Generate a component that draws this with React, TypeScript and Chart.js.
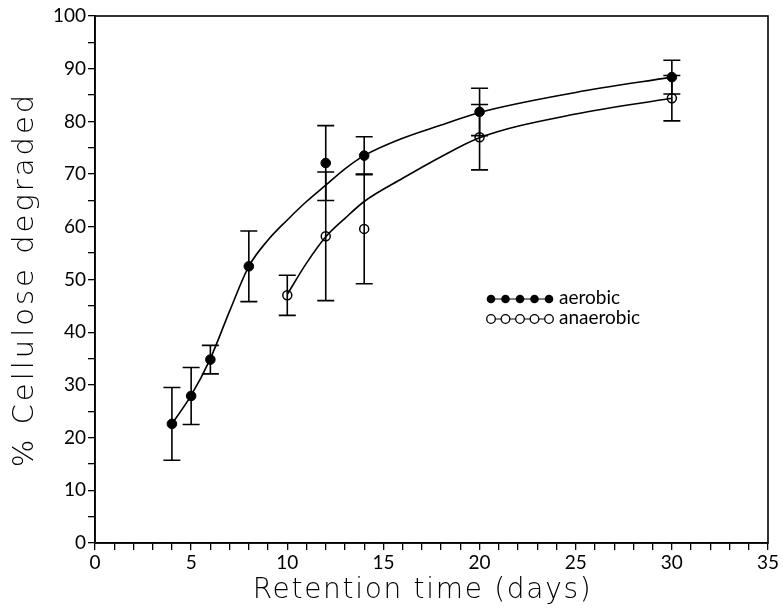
import React, { useEffect, useRef } from "react";
import { Chart, registerables } from "chart.js";

Chart.register(...registerables);

// Measured points (mean ± error)
const aerobicX = [4, 5, 6, 8, 12, 14, 20, 30];
const aerobicY = [22.6, 27.9, 34.8, 52.5, 72.1, 73.5, 81.8, 88.4];
const aerobicErr = [6.9, 5.4, 2.7, 6.7, 7.1, 3.6, 4.5, 3.2];

const anaerobicX = [10, 12, 14, 20, 30];
const anaerobicY = [47.0, 58.2, 59.6, 77.0, 84.4];
const anaerobicErr = [3.8, 12.2, 10.4, 6.2, 4.3];

// Fitted curves
const aerobicFitX = [4, 5, 6, 7, 8, 9, 10, 11, 12, 13, 14, 16, 18, 20, 25, 30];
const aerobicFitY = [22.6, 28, 35, 44, 52.5, 57.5, 61.3, 64.8, 67.9, 71.0, 73.5, 76.8, 79.3, 81.7, 85.5, 88.4];
const anaerobicFitX = [10, 11, 12, 13, 14, 16, 18, 20, 25, 30];
const anaerobicFitY = [47.2, 53.1, 58.1, 61.6, 64.8, 69.2, 73.3, 76.9, 81.4, 84.4];

const legendLabels = ["aerobic", "anaerobic"];
const xTitle = "Retention time (days)";
const yTitle = "% Cellulose degraded";

const FONT = "Lato, 'DejaVu Sans', sans-serif";
const TITLE_FONT = "'DejaVu Sans', sans-serif";

const toXY = (xs: number[], ys: number[]) => xs.map((x, i) => ({ x, y: ys[i] }));

const errorBarPlugin = {
  id: "errorBars",
  afterDatasetsDraw(chart: any) {
    const ctx = chart.ctx;
    const xs = chart.scales.x;
    const ys = chart.scales.y;
    const series = [
      [aerobicX, aerobicY, aerobicErr],
      [anaerobicX, anaerobicY, anaerobicErr],
    ];
    ctx.save();
    ctx.strokeStyle = "#000";
    ctx.lineWidth = 1.6;
    const cap = 8.5;
    series.forEach(([X, Y, E]) => {
      X.forEach((xv: number, i: number) => {
        const px = xs.getPixelForValue(xv);
        const top = ys.getPixelForValue(Y[i] + E[i]);
        const bot = ys.getPixelForValue(Y[i] - E[i]);
        ctx.beginPath();
        ctx.moveTo(px, top);
        ctx.lineTo(px, bot);
        ctx.moveTo(px - cap, top);
        ctx.lineTo(px + cap, top);
        ctx.moveTo(px - cap, bot);
        ctx.lineTo(px + cap, bot);
        ctx.stroke();
      });
    });
    ctx.restore();
  },
};

const framePlugin = {
  id: "frame",
  afterDraw(chart: any) {
    const { ctx, chartArea } = chart;
    ctx.save();
    ctx.strokeStyle = "#000";
    ctx.lineWidth = 1.6;
    ctx.strokeRect(chartArea.left, chartArea.top, chartArea.right - chartArea.left, chartArea.bottom - chartArea.top);

    // axis titles
    ctx.fillStyle = "#000";
    ctx.textAlign = "center";
    ctx.textBaseline = "middle";
    try {
      (ctx as any).letterSpacing = "1.7px";
    } catch (e) {}
    ctx.font = `300 28px ${TITLE_FONT}`;
    ctx.fillText(xTitle, (chartArea.left + chartArea.right) / 2 - 9, 591);
    ctx.save();
    try {
      (ctx as any).letterSpacing = "3px";
    } catch (e) {}
    ctx.translate(25, (chartArea.top + chartArea.bottom) / 2);
    ctx.rotate(-Math.PI / 2);
    ctx.font = `300 29px ${TITLE_FONT}`;
    ctx.fillText(yTitle, 0, 0);
    ctx.restore();
    try {
      (ctx as any).letterSpacing = "0px";
    } catch (e) {}

    // legend
    const lx = chartArea.left + 396;
    const step = 14.5;
    const rows = [chartArea.top + 283, chartArea.top + 303];
    rows.forEach((ly, r) => {
      ctx.beginPath();
      ctx.lineWidth = 1.2;
      ctx.moveTo(lx, ly);
      ctx.lineTo(lx + 4 * step, ly);
      ctx.stroke();
      for (let k = 0; k < 5; k++) {
        ctx.beginPath();
        ctx.arc(lx + k * step, ly, 4.3, 0, Math.PI * 2);
        if (r === 0) {
          ctx.fillStyle = "#000";
          ctx.fill();
        } else {
          ctx.fillStyle = "#fff";
          ctx.fill();
          ctx.lineWidth = 1.3;
          ctx.stroke();
        }
      }
      ctx.fillStyle = "#000";
      ctx.font = `19px ${FONT}`;
      ctx.textBaseline = "middle";
      ctx.textAlign = "left";
      ctx.fillText(legendLabels[r], lx + 4 * step + 10, ly - 1);
    });
    ctx.restore();
  },
};

export default function App() {
  const ref = useRef<HTMLCanvasElement | null>(null);
  useEffect(() => {
    if (!ref.current) return;
    const chart = new Chart(ref.current, {
      type: "scatter",
      data: {
        datasets: [
          {
            label: "aerobic fit",
            data: toXY(aerobicFitX, aerobicFitY),
            showLine: true,
            pointRadius: 0,
            borderColor: "#000",
            borderWidth: 1.6,
            cubicInterpolationMode: "monotone",
          } as any,
          {
            label: "anaerobic fit",
            data: toXY(anaerobicFitX, anaerobicFitY),
            showLine: true,
            pointRadius: 0,
            borderColor: "#000",
            borderWidth: 1.6,
            cubicInterpolationMode: "monotone",
          } as any,
          {
            label: legendLabels[0],
            data: toXY(aerobicX, aerobicY),
            showLine: false,
            pointRadius: 4.8,
            backgroundColor: "#000",
            borderColor: "#000",
            borderWidth: 1,
          },
          {
            label: legendLabels[1],
            data: toXY(anaerobicX, anaerobicY),
            showLine: false,
            pointRadius: 4.5,
            backgroundColor: "rgba(0,0,0,0)",
            borderColor: "#000",
            borderWidth: 1.5,
          },
        ],
      },
      options: {
        responsive: false,
        animation: false,
        layout: { padding: { top: 16, right: 15, left: 0, bottom: 0 } },
        plugins: { legend: { display: false }, tooltip: { enabled: false } },
        scales: {
          x: {
            type: "linear",
            min: 0,
            max: 35,
            afterFit: (s: any) => {
              s.height = 66;
            },
            ticks: {
              stepSize: 1,
              autoSkip: false,
              maxRotation: 0,
              padding: 1,
              color: "#000",
              font: { family: FONT, size: 19 },
              callback: (v: any) => (v % 5 === 0 ? String(v) : ""),
            },
            grid: { drawOnChartArea: false, tickLength: 7, color: "#000", lineWidth: 1.3 },
            border: { color: "#000", width: 1.6 },
            title: { display: false },
          },
          y: {
            type: "linear",
            min: 0,
            max: 100,
            afterFit: (s: any) => {
              s.width = 95;
            },
            ticks: {
              stepSize: 5,
              autoSkip: false,
              padding: 2,
              color: "#000",
              font: { family: FONT, size: 19 },
              callback: (v: any) => (v % 10 === 0 ? String(v) : ""),
            },
            grid: { drawOnChartArea: false, tickLength: 7, color: "#000", lineWidth: 1.3 },
            border: { color: "#000", width: 1.6 },
            title: { display: false },
          },
        },
      },
      plugins: [errorBarPlugin, framePlugin],
    });
    return () => chart.destroy();
  }, []);
  return (
    <div style={{ position: "absolute", left: 0, top: 0, width: 783, height: 609, background: "#fff" }}>
      <canvas ref={ref} width={783} height={609} style={{ display: "block" }} />
    </div>
  );
}
